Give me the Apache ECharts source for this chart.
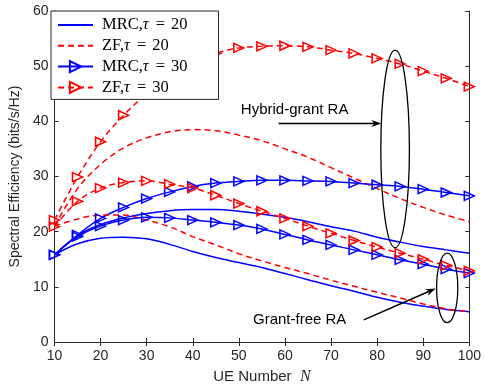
<!DOCTYPE html>
<html>
<head>
<meta charset="utf-8">
<script src="https://cdn.jsdelivr.net/npm/echarts@6/dist/echarts.min.js"></script>
<style>html,body{margin:0;padding:0;background:#fff}#c{width:484px;height:390px}</style>
</head>
<body>
<div id="c"></div>
<script>
// UE number N
const ueNumbers = [10,15,20,25,30,35,40,45,50,55,60,65,70,75,80,85,90,95,100];
const xTicks = [10,20,30,40,50,60,70,80,90,100];
const yTicks = [0,10,20,30,40,50,60];
// Hybrid-grant RA
const hybridMRC20 = [15.8,19.3,21.3,22.5,23.3,23.8,24.0,24.0,23.7,23.2,22.6,21.8,20.9,20.1,19.0,18.1,17.3,16.7,16.1];
const hybridZF20  = [21.0,27.8,32.2,35.2,37.0,38.1,38.5,38.3,37.5,36.5,35.0,33.5,31.6,29.7,27.8,26.0,24.4,23.0,21.8];
const hybridMRC30 = [15.8,19.4,22.4,24.4,26.0,27.2,28.2,28.8,29.1,29.3,29.3,29.2,29.1,28.8,28.5,28.2,27.7,27.1,26.5];
const hybridZF30  = [22.1,29.9,36.3,41.1,45.0,48.2,50.6,52.3,53.3,53.6,53.7,53.5,52.9,52.3,51.4,50.4,49.1,47.8,46.3];
// Grant-free RA
const freeMRC20 = [15.8,17.8,18.8,19.0,18.7,17.7,16.4,15.3,14.4,13.5,12.4,11.3,10.2,9.2,8.1,7.2,6.5,5.9,5.5];
const freeZF20  = [21.0,22.3,23.0,23.0,22.1,20.9,19.1,17.6,16.0,14.7,13.5,12.4,11.2,10.1,9.0,8.0,6.9,6.0,5.5];
const freeMRC30 = [15.8,19.1,21.0,22.1,22.6,22.5,22.1,21.7,21.2,20.5,19.5,18.5,17.6,16.7,15.8,14.9,14.1,13.2,12.5];
const freeZF30  = [20.9,25.5,27.9,28.9,29.2,28.6,27.9,26.6,25.1,23.7,22.4,21.0,19.7,18.4,17.2,16.1,15.0,13.9,12.9];

const legendNames = ['MRC,τ = 20','ZF,τ = 20','MRC,τ = 30','ZF,τ = 30'];

const BLUE = '#0000ff', RED = '#ff0000', AX = '#262626';
const pairs = arr => ueNumbers.map((x,i)=>[x,arr[i]]);

function mk(name, arr, color, dashed, marker){
  const s = {
    name, type:'line', data: pairs(arr), smooth: 0.35,
    lineStyle:{color, width:1.5, type: dashed ? [6,4] : 'solid'},
    itemStyle: marker ? {color:'rgba(255,255,255,0)', borderColor: color, borderWidth:1.5}
                      : {color:'rgba(255,255,255,0)', borderWidth:0},
    emphasis:{disabled:true}, z: 3
  };
  if (marker){ s.symbol='triangle'; s.symbolRotate=-90; s.symbolSize=[9,10]; s.showSymbol=true; }
  else { s.symbol='none'; }
  return s;
}

const chart = echarts.init(document.getElementById('c'), null, {renderer:'canvas'});
const axisCommon = {
  axisLine:{show:true, lineStyle:{color:AX, width:1}},
  axisTick:{show:true, inside:true, length:4, lineStyle:{color:AX}},
  splitLine:{show:false}
};
chart.setOption({
  animation:false,
  backgroundColor:'#fff',
  grid:{left:50.5, right:11.5, top:11, bottom:48, containLabel:false},
  xAxis:[
    Object.assign({type:'value', min:10, max:100, interval:10, position:'bottom',
      axisLabel:{color:AX, fontFamily:'Liberation Sans', fontSize:14, margin:7,
        formatter: v => xTicks.includes(v) ? String(v) : ''},
      name:'{a|UE Number  }{n|N}', nameLocation:'middle', nameGap:27,
      nameTextStyle:{rich:{a:{fontFamily:'Liberation Sans', fontSize:15, color:AX},
        n:{fontFamily:'Liberation Serif', fontStyle:'italic', fontSize:16, color:AX}}}
    }, axisCommon),
    Object.assign({type:'value', min:10, max:100, interval:10, position:'top', axisLabel:{show:false}}, axisCommon)
  ],
  yAxis:[
    Object.assign({type:'value', min:0, max:60, interval:10, position:'left',
      axisLabel:{color:AX, fontFamily:'Liberation Sans', fontSize:14, margin:6,
        formatter: v => yTicks.includes(v) ? String(v) : ''},
      name:'Spectral Efficiency (bits/s/Hz)', nameLocation:'middle', nameGap:23,
      nameTextStyle:{fontFamily:'Liberation Sans', fontSize:14, color:AX}
    }, axisCommon),
    Object.assign({type:'value', min:0, max:60, interval:10, position:'right', axisLabel:{show:false}}, axisCommon)
  ],
  legend:{
    data: legendNames, orient:'vertical', left:51, top:11,
    backgroundColor:'#fff', borderColor:AX, borderWidth:1, borderRadius:0,
    padding:[5,31,3,6], itemWidth:35, itemHeight:14, itemGap:2.8,
    formatter: name => {
      const m = name.match(/^(\w+),τ = (\d+)$/);
      return '{a|' + m[1] + ',}{t|τ}{e|=}{a|' + m[2] + '}';
    },
    textStyle:{lineHeight:18, rich:{
      a:{fontFamily:'Liberation Serif', fontSize:16.5, color:'#000', lineHeight:18},
      t:{fontFamily:'Liberation Serif', fontStyle:'italic', fontSize:16.5, color:'#000', lineHeight:18, padding:[0,1,0,0]},
      e:{fontFamily:'Liberation Serif', fontSize:16.5, color:'#000', lineHeight:18, padding:[0,6,0,6]}
    }, padding:[0,0,0,4]}
  },
  series:[
    mk(legendNames[0], hybridMRC20, BLUE, false, false),
    mk(legendNames[1], hybridZF20, RED, true, false),
    mk(legendNames[2], hybridMRC30, BLUE, false, true),
    mk(legendNames[3], hybridZF30, RED, true, true),
    mk(legendNames[0], freeMRC20, BLUE, false, false),
    mk(legendNames[1], freeZF20, RED, true, false),
    mk(legendNames[2], freeMRC30, BLUE, false, true),
    mk(legendNames[3], freeZF30, RED, true, true)
  ]
});

// Annotations placed in data coordinates
const P = (x,y) => chart.convertToPixel({xAxisIndex:0, yAxisIndex:0}, [x,y]);
function ellipse(cx, cy, rxU, ryU){
  const c = P(cx,cy), e = P(cx+rxU, cy+ryU);
  return {type:'ellipse', shape:{cx:c[0], cy:c[1], rx:Math.abs(e[0]-c[0]), ry:Math.abs(e[1]-c[1])},
    style:{fill:'none', stroke:'#000', lineWidth:1.3}, z:10};
}
function arrow(x1,y1,x2,y2){
  const a = P(x1,y1), b = P(x2,y2);
  const dx=b[0]-a[0], dy=b[1]-a[1], L=Math.hypot(dx,dy), ux=dx/L, uy=dy/L, px=-uy, py=ux;
  const hl=10, hw=3.5;
  const base=[b[0]-ux*hl, b[1]-uy*hl], notch=[b[0]-ux*hl*0.7, b[1]-uy*hl*0.7];
  return [
    {type:'line', shape:{x1:a[0], y1:a[1], x2:notch[0], y2:notch[1]}, style:{stroke:'#000', lineWidth:1.5}, z:10},
    {type:'polygon', shape:{points:[b,[base[0]+px*hw, base[1]+py*hw], notch, [base[0]-px*hw, base[1]-py*hw]]},
      style:{fill:'#000'}, z:10}
  ];
}
function label(text, x, y){
  const p = P(x,y);
  return {type:'text', x:p[0], y:p[1], style:{text, fill:'#000', font:'15px "Liberation Sans"', align:'center', verticalAlign:'middle'}, z:10};
}
chart.setOption({graphic:[
  ellipse(83.9, 35.0, 3.1, 17.9),
  ellipse(95.2, 9.8, 2.3, 6.3),
  ...arrow(58.6, 39.6, 80.9, 39.6),
  ...arrow(77.1, 4.0, 92.7, 9.7),
  label('Hybrid-grant RA', 62.1, 42.05),
  label('Grant-free RA', 63.2, 4.0)
]});
</script>
</body>
</html>
